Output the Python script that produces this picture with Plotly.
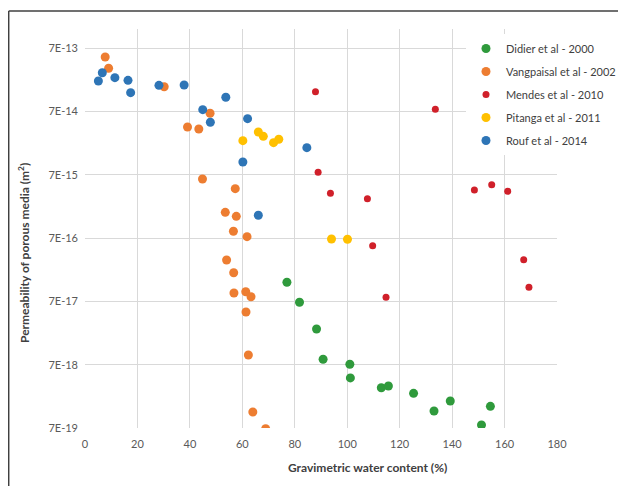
import plotly.graph_objects as go
import math

# ---- data ----
didier_x = [77.0, 81.8, 88.3, 90.8, 101.0, 101.2, 113.0, 115.7, 125.3, 133.1, 139.3, 154.6, 151.2]
didier_y = [1.40e-16, 6.76e-17, 2.56e-17, 8.51e-18, 7.10e-18, 4.32e-18, 3.03e-18, 3.22e-18,
            2.47e-18, 1.30e-18, 1.87e-18, 1.54e-18, 7.80e-19]

vang_x = [7.7, 9.0, 30.2, 47.7, 39.1, 43.4, 44.8, 57.3, 53.5, 57.7, 56.6, 61.8, 54.0, 56.7,
          56.8, 61.3, 63.3, 61.4, 62.3, 64.0, 68.9]
vang_y = [5.05e-13, 3.35e-13, 1.71e-13, 6.52e-14, 3.96e-14, 3.68e-14, 5.98e-15, 4.21e-15,
          1.78e-15, 1.54e-15, 8.93e-16, 7.35e-16, 3.15e-16, 1.98e-16, 9.48e-17, 9.93e-17,
          8.28e-17, 4.75e-17, 9.96e-18, 1.25e-18, 6.82e-19]

mendes_x = [87.9, 133.6, 88.9, 93.6, 107.7, 148.5, 155.1, 161.2, 109.7, 167.3, 169.3, 114.8]
mendes_y = [1.43e-13, 7.53e-14, 7.64e-15, 3.56e-15, 2.92e-15, 4.01e-15, 4.87e-15, 3.83e-15,
            5.30e-16, 3.18e-16, 1.17e-16, 8.11e-17]

pitanga_x = [60.2, 66.1, 68.0, 71.9, 73.9, 94.0, 100.1]
pitanga_y = [2.41e-14, 3.30e-14, 2.82e-14, 2.24e-14, 2.54e-14, 6.75e-16, 6.69e-16]

rouf_x = [5.1, 6.6, 11.4, 16.4, 17.4, 28.2, 37.8, 53.7, 44.9, 47.8, 62.0, 60.2, 84.6, 66.1]
rouf_y = [2.11e-13, 2.85e-13, 2.38e-13, 2.16e-13, 1.38e-13, 1.80e-13, 1.82e-13, 1.17e-13,
          7.43e-14, 4.70e-14, 5.36e-14, 1.11e-14, 1.87e-14, 1.60e-15]

series_names = ["Didier et al - 2000", "Vangpaisal et al - 2002", "Mendes et al - 2010",
                "Pitanga et al - 2011", "Rouf et al - 2014"]
series_colors = ["#2F9A3C", "#ED7D31", "#D0202A", "#FFC000", "#2E75B6"]
series_sizes = [9, 9, 7, 9, 9]

y_ticks = [7e-19, 7e-18, 7e-17, 7e-16, 7e-15, 7e-14, 7e-13]
y_ticktext = ["7E-19", "7E-18", "7E-17", "7E-16", "7E-15", "7E-14", "7E-13"]
x_ticks = [0, 20, 40, 60, 80, 100, 120, 140, 160, 180]

FONT = "Lato"

# page body has an 8px margin: figure is sized/offset to compensate
W, H = 618, 478
ML, MR, MT, MB = 77, 69, 21, 58
PW, PH = W - ML - MR, H - MT - MB


def px(xpage):
    return (xpage - 8 - ML) / PW


def py(ypage):
    return 1 - (ypage - 8 - MT) / PH


fig = go.Figure()
data = [(didier_x, didier_y), (vang_x, vang_y), (mendes_x, mendes_y),
        (pitanga_x, pitanga_y), (rouf_x, rouf_y)]
for i, (xs, ys) in enumerate(data):
    fig.add_trace(go.Scatter(
        x=xs, y=ys, mode="markers", name=series_names[i], legendgroup=str(i),
        marker=dict(color=series_colors[i], size=series_sizes[i], line=dict(width=0)),
    ))

fig.update_layout(
    width=W, height=H,
    paper_bgcolor="white", plot_bgcolor="white",
    margin=dict(l=ML, r=MR, t=MT, b=MB, autoexpand=False),
    font=dict(family=FONT, size=11, color="#595959"),
    showlegend=True,
    legend=dict(xref="container", yref="container",
                x=(466 - 8) / W, y=1 - (34 - 8) / H, xanchor="left", yanchor="top",
                bgcolor="white", borderwidth=0, tracegroupgap=4,
                font=dict(family=FONT, size=11, color="#404040"),
                itemwidth=30),
    xaxis=dict(range=[0, 180], tickvals=x_ticks, showgrid=True, gridcolor="#D9D9D9",
               gridwidth=1, zeroline=False, showline=False, ticks="",
               ticklabelstandoff=8,
               tickfont=dict(size=11, color="#595959")),
    yaxis=dict(type="log", range=[math.log10(7e-19), math.log10(7e-13) + 0.3],
               tickvals=y_ticks, ticktext=y_ticktext, showgrid=True, gridcolor="#D9D9D9",
               gridwidth=1, zeroline=False, showline=False, ticks="",
               ticklabelstandoff=6,
               tickfont=dict(size=11, color="#595959")),
    annotations=[
        dict(text="<b>Gravimetric water content (%)</b>", xref="paper", yref="paper",
             x=px(367), y=py(467), xanchor="center", yanchor="middle",
             showarrow=False, font=dict(family=FONT, size=12, color="#404040")),
        dict(text="<b>Permeability of porous media (m<sup>2</sup>)</b>", xref="paper",
             yref="paper", x=px(24), y=py(253), xanchor="center",
             yanchor="middle", textangle=-90, showarrow=False,
             font=dict(family=FONT, size=12, color="#404040")),
    ],
    shapes=[
        dict(type="line", xref="paper", yref="paper",
             x0=px(8.7), x1=px(640), y0=py(11), y1=py(11),
             line=dict(color="#404040", width=1.5)),
        dict(type="line", xref="paper", yref="paper",
             x0=px(8.7), x1=px(8.7), y0=py(11), y1=py(500),
             line=dict(color="#404040", width=1.5)),
    ],
)

fig.write_html("out.html")
